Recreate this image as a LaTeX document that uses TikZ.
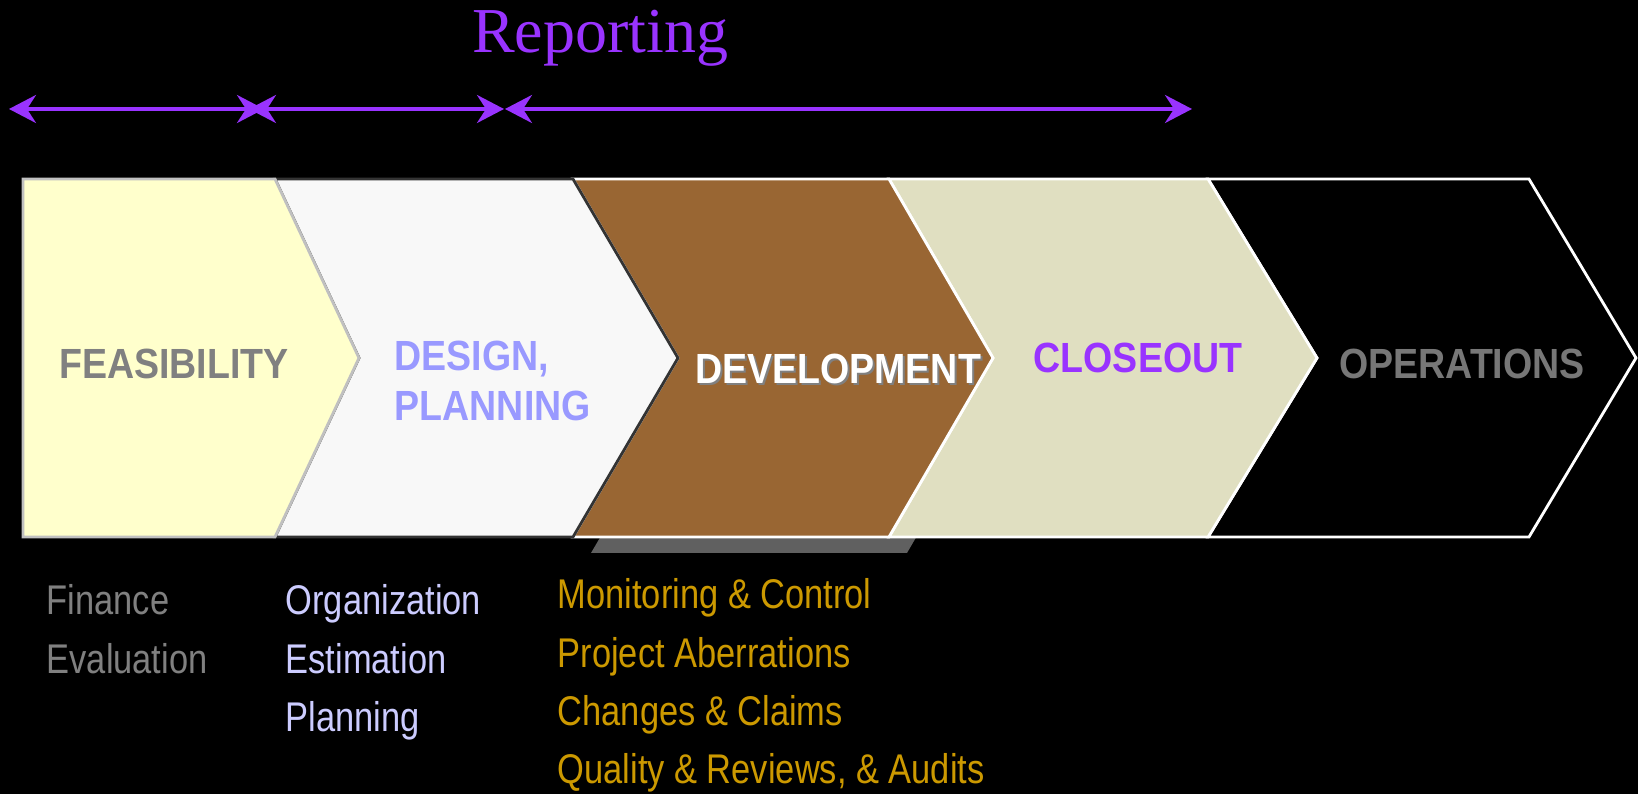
\documentclass[tikz,border=0pt]{standalone}
\usepackage{fontspec}
\setmainfont{Liberation Serif}
\newfontfamily\phasefont[FakeStretch=0.89]{Liberation Sans}
\newfontfamily\itemfont[FakeStretch=0.83]{Liberation Sans}
\usepackage{tikz}
\usetikzlibrary{positioning}
\usetikzlibrary{arrows.meta}
\usetikzlibrary{calc}

\definecolor{reportviolet}{HTML}{9933FF}
\definecolor{feasfill}{HTML}{FFFFCC}
\definecolor{feasline}{HTML}{C0C0C0}
\definecolor{designfill}{HTML}{F8F8F8}
\definecolor{designline}{HTML}{333333}
\definecolor{devfill}{HTML}{996633}
\definecolor{closefill}{HTML}{E0DFC1}
\definecolor{shadowgray}{HTML}{606060}
\definecolor{labelgray}{HTML}{808080}
\definecolor{opsgray}{HTML}{777777}
\definecolor{designblue}{HTML}{9999FF}
\definecolor{orglav}{HTML}{CCCCFF}
\definecolor{devgold}{HTML}{CC9900}

\begin{document}
\begin{tikzpicture}[x=0.01cm,y=-0.01cm]
\tikzset{phase/.style={line width=0.8pt, line join=miter}}
\tikzset{phaselabel/.style={font=\phasefont\bfseries\fontsize{12}{14}\selectfont, inner sep=0pt, anchor=base}}
\tikzset{tasklabel/.style={font=\itemfont\fontsize{11.8}{14}\selectfont, inner sep=0pt, anchor=base west}}
\tikzset{span/.style={draw=reportviolet, line width=1pt, {Stealth[length=0.27cm,width=0.28cm,inset=0.09cm]}-{Stealth[length=0.27cm,width=0.28cm,inset=0.09cm]}}}

\fill[black] (0,0) rectangle (1638,794);
\useasboundingbox (0,0) rectangle (1638,794);

% reporting spans
\node[font=\fontsize{18.2}{22}\selectfont, text=reportviolet, anchor=base, inner sep=0pt] (report) at (600,53) {Reporting};
\coordinate (s0) at (9,109);
\coordinate (s1) at (264,109);
\coordinate (s2) at (249,109);
\coordinate (s3) at (504,109);
\coordinate (s4) at (505,109);
\coordinate (s5) at (1192,109);
\draw[span] (s0) -- (s1);
\draw[span] (s2) -- (s3);
\draw[span] (s4) -- (s5);

% drop shadow under development
\fill[shadowgray, shift={(18,16)}] (573,179) -- (889,179) -- (993,358) -- (889,537) -- (573,537) -- (678,358) -- cycle;

% phases, right to left so each right border lies on top
\filldraw[phase, fill=black, draw=white] (1208,179) -- (1529,179) -- (1636,358) -- (1529,537) -- (1208,537) -- (1317,358) -- cycle;
\filldraw[phase, fill=closefill, draw=white] (889,179) -- (1208,179) -- (1317,358) -- (1208,537) -- (889,537) -- (993,358) -- cycle;
\filldraw[phase, fill=devfill, draw=white] (573,179) -- (889,179) -- (993,358) -- (889,537) -- (573,537) -- (678,358) -- cycle;
\filldraw[phase, fill=designfill, draw=designline] (275,179) -- (573,179) -- (678,358) -- (573,537) -- (275,537) -- (359,358) -- cycle;
\filldraw[phase, fill=feasfill, draw=feasline] (23,179) -- (275,179) -- (359,358) -- (275,537) -- (23,537) -- cycle;

% phase names
\node[phaselabel, text=labelgray] (feas) at (174,379) {FEASIBILITY};
\node[phaselabel, text=designblue, anchor=base west] (design) at (394,371) {DESIGN,};
\node[phaselabel, text=designblue, anchor=base west] (plan) at ([yshift=-0.49cm]design.base west) {PLANNING};
\node[phaselabel, text=labelgray] (devshadow) at (840,386) {DEVELOPMENT};
\node[phaselabel, text=white] (dev) at (838,384) {DEVELOPMENT};
\node[phaselabel, text=reportviolet] (close) at (1138,373) {CLOSEOUT};
\node[phaselabel, text=opsgray] (ops) at (1462,379) {OPERATIONS};

% tasks below each phase
\node[tasklabel, text=labelgray] (fin) at (46,615) {Finance};
\node[tasklabel, text=labelgray] (eval) at ([yshift=-0.58cm]fin.base west) {Evaluation};
\node[tasklabel, text=orglav] (org) at (285,615) {Organization};
\node[tasklabel, text=orglav] (est) at ([yshift=-0.58cm]org.base west) {Estimation};
\node[tasklabel, text=orglav] (planning) at ([yshift=-0.58cm]est.base west) {Planning};
\node[tasklabel, text=devgold] (monitor) at (557,609) {Monitoring \& Control};
\node[tasklabel, text=devgold] (aberr) at ([yshift=-0.58cm]monitor.base west) {Project Aberrations};
\node[tasklabel, text=devgold] (claims) at ([yshift=-0.58cm]aberr.base west) {Changes \& Claims};
\node[tasklabel, text=devgold] (audits) at ([yshift=-0.58cm]claims.base west) {Quality \& Reviews, \& Audits};
\end{tikzpicture}
\end{document}
